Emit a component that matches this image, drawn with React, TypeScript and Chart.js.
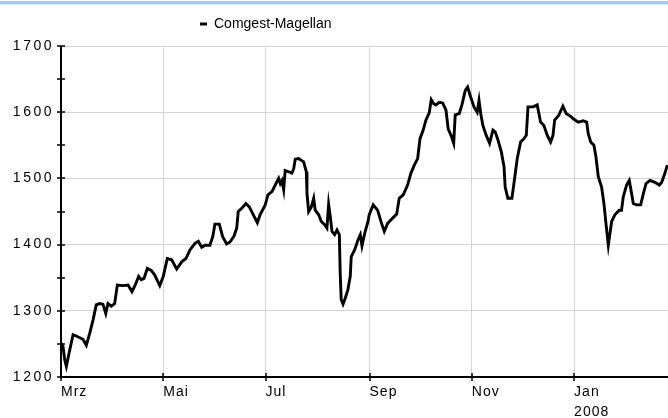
import { useEffect, useRef } from "react";
import { Chart, registerables } from "chart.js";

Chart.register(...registerables);

const seriesName = "Comgest-Magellan";

// days since 1 March 2007
const dayOffsets = [
  0, 1.2, 2.2, 3.2, 4.8, 7.2, 9.1, 13.1, 15.1, 17.1, 19.1, 21.0, 23.1, 25.0, 26.7, 28.0, 30.0, 32.0, 33.6, 37.0,
  40.0, 42.3, 44.3, 46.3, 47.9, 49.5, 51.5, 53.8, 55.9, 57.2, 58.9, 61.0, 63.4, 66.0, 69.0, 72.0, 74.5, 76.9, 79.9,
  81.9, 83.9, 85.9, 88.8, 90.5, 91.8, 94.4, 96.4, 98.8, 100.8, 103.2, 104.8, 105.7, 107.8, 110.3, 112.3, 114.7,
  117.1, 118.7, 121.8, 123.4, 125.8, 127.8, 129.8, 130.8, 131.8, 132.8, 133.7, 135.8, 137.7, 138.8, 139.7, 141.7,
  144.7, 146.3, 146.7, 147.7, 149.3, 150.7, 151.6, 153.7, 155.2, 157.2, 158.6, 159.6, 160.6, 161.6, 163.2, 164.6,
  166.0, 166.5, 167.1, 168.2, 169.5, 171.1, 172.5, 173.1, 175.1, 177.1, 178.5, 179.5, 181.1, 183.1, 183.8, 186.2,
  188.8, 190.8, 192.8, 194.8, 197.8, 200.2, 201.7, 204.1, 206.7, 208.7, 210.7, 212.7, 214.1, 216.0, 217.6, 219.6,
  220.8, 222.2, 223.6, 225.6, 227.6, 229.6, 230.9, 232.6, 234.2, 235.1, 237.5, 239.1, 241.1, 242.5, 244.3, 246.3,
  248.2, 249.3, 250.3, 251.6, 253.6, 255.6, 257.6, 259.0, 260.6, 262.6, 264.2, 264.9, 266.5, 268.9, 270.1, 272.1,
  274.1, 276.1, 277.5, 278.5, 281.5, 284.0, 286.0, 288.0, 290.0, 292.0, 293.4, 294.4, 296.8, 299.3, 301.3, 304.3,
  305.5, 308.5, 311.4, 313.5, 314.4, 315.9, 317.8, 319.0, 320.4, 322.4, 323.8, 325.0, 326.4, 327.4, 328.4, 330.3,
  332.9, 334.3, 335.3, 337.3, 338.9, 340.3, 341.3, 343.3, 345.7, 347.3, 348.9, 351.3, 354.2, 356.8, 358.2, 360.2,
  361.6,
];

const values = [
  1251, 1246, 1226, 1216, 1236, 1264, 1262, 1257, 1248, 1266, 1286, 1309, 1311, 1310, 1296, 1311, 1307, 1311, 1339, 1338,
  1339, 1329, 1339, 1352, 1347, 1349, 1364, 1361, 1354, 1347, 1338, 1352, 1379, 1377, 1363, 1374, 1379, 1392, 1402,
  1405, 1396, 1399, 1399, 1412, 1431, 1431, 1412, 1401, 1404, 1413, 1425, 1450, 1455, 1462, 1457, 1445,
  1433, 1445, 1460, 1475, 1480, 1490, 1500, 1492, 1497, 1483, 1512, 1510, 1508, 1515, 1529, 1530,
  1525, 1510, 1477, 1450, 1457, 1470, 1452, 1445, 1435, 1430, 1425, 1461, 1442, 1420, 1415, 1422,
  1415, 1357, 1317, 1310, 1319, 1332, 1352, 1382, 1392, 1407, 1415, 1398, 1417, 1435, 1445, 1460,
  1452, 1435, 1420, 1432, 1440, 1446, 1470, 1475, 1490, 1508, 1520, 1530, 1560, 1573, 1588, 1599,
  1619, 1613, 1611, 1615, 1614, 1603, 1575, 1565, 1553, 1596, 1598, 1611, 1633, 1638, 1623, 1608,
  1600, 1618, 1598, 1580, 1565, 1553, 1573, 1570, 1558, 1540, 1518, 1487, 1470, 1470, 1492, 1530,
  1555, 1560, 1565, 1608, 1608, 1611, 1585, 1580, 1565, 1555, 1565, 1588, 1595, 1609, 1598, 1593,
  1590, 1585, 1587, 1585, 1568, 1555, 1550, 1533, 1503, 1487, 1462, 1432, 1399, 1417, 1435, 1445,
  1452, 1452, 1472, 1490, 1497, 1477, 1462, 1460, 1460, 1477, 1492, 1497, 1494, 1490, 1494, 1508,
  1520,
];

const tickDays = [0, 61, 122, 184, 245, 306];
const tickLabels: (string | string[])[] = ["Mrz", "Mai", "Jul", "Sep", "Nov", ["Jan", "2008"]];
const xMax = 362;

const yMin = 1200;
const yMax = 1700;
const yStep = 100;
const yMajor = [1200, 1300, 1400, 1500, 1600, 1700];
const yMinor = [1250, 1350, 1450, 1550, 1650];

const FONT = "'Liberation Sans', Arial, sans-serif";

function withSpacing(scale: any, spacing: string) {
  if (scale.__spaced) return;
  const orig = scale.drawLabels;
  scale.drawLabels = function (this: any, area: any) {
    const ctx = this.ctx;
    const prev = ctx.letterSpacing;
    ctx.letterSpacing = spacing;
    orig.call(this, area);
    ctx.letterSpacing = prev || "0px";
  };
  scale.__spaced = true;
}

const decorPlugin = {
  id: "decor",
  beforeLayout(chart: any) {
    const lg = chart.legend;
    if (lg && !lg.__patched) {
      const orig = lg.fit;
      lg.fit = function (this: any) {
        orig.call(this);
        this.height += 5;
      };
      lg.__patched = true;
    }
  },
  afterLayout(chart: any) {
    const lg = chart.legend;
    if (lg) {
      lg.left = 190;
    }
    if (chart.scales.y) withSpacing(chart.scales.y, "2.5px");
    if (chart.scales.x) withSpacing(chart.scales.x, "1px");
  },
  beforeDraw(chart: any) {
    const { ctx, width } = chart;
    ctx.save();
    ctx.fillStyle = "#a3c7ef";
    ctx.fillRect(0, 1, width, 3);
    ctx.fillStyle = "#dbe8f7";
    ctx.fillRect(0, 4, width, 1);
    ctx.restore();
  },
  afterDatasetsDraw(chart: any) {
    const { ctx, chartArea, scales } = chart;
    const { left, right, top, bottom } = chartArea;
    const x = scales.x;
    const y = scales.y;
    ctx.save();
    ctx.strokeStyle = "#000";
    ctx.lineWidth = 2;
    ctx.beginPath();
    ctx.moveTo(left, top);
    ctx.lineTo(left, bottom);
    ctx.lineTo(right, bottom);
    ctx.stroke();
    ctx.lineWidth = 1.5;
    ctx.beginPath();
    [...yMajor, ...yMinor].forEach((v) => {
      const py = Math.round(y.getPixelForValue(v));
      ctx.moveTo(left - 4, py);
      ctx.lineTo(left + 4, py);
    });
    tickDays.forEach((d) => {
      const px = Math.round(x.getPixelForValue(d));
      ctx.moveTo(px, bottom - 4);
      ctx.lineTo(px, bottom + 4);
    });
    ctx.stroke();
    ctx.restore();
  },
};

export default function App() {
  const canvasRef = useRef<HTMLCanvasElement | null>(null);

  useEffect(() => {
    const canvas = canvasRef.current;
    if (!canvas) return;
    const points = dayOffsets.map((d, i) => ({ x: d, y: values[i] }));
    const chart = new Chart(canvas, {
      type: "line",
      data: {
        datasets: [
          {
            label: seriesName,
            data: points,
            borderColor: "#000",
            backgroundColor: "#000",
            borderWidth: 2.9,
            pointRadius: 0,
            tension: 0,
            fill: false,
          },
        ],
      },
      options: {
        responsive: false,
        animation: false,
        devicePixelRatio: 1,
        layout: { padding: { top: 7, left: 0, right: 0, bottom: 0 } },
        plugins: {
          tooltip: { enabled: false },
          legend: {
            display: true,
            position: "top",
            align: "start",
            labels: {
              color: "#000",
              font: { family: FONT, size: 14 },
              boxWidth: 7,
              boxHeight: 3,
              padding: 10,
              generateLabels: () => [
                {
                  text: seriesName,
                  fillStyle: "#000",
                  strokeStyle: "#000",
                  lineWidth: 0,
                  hidden: false,
                  datasetIndex: 0,
                },
              ],
            },
          },
        },
        scales: {
          x: {
            type: "linear",
            min: 0,
            max: xMax,
            afterBuildTicks: (scale: any) => {
              scale.ticks = tickDays.map((v) => ({ value: v }));
            },
            afterFit: (scale: any) => {
              scale.height = 41;
            },
            ticks: {
              autoSkip: false,
              maxRotation: 0,
              align: "start",
              padding: 5,
              color: "#000",
              font: { family: FONT, size: 14, lineHeight: 1.45 },
              callback: (_v: any, i: number) => tickLabels[i],
            },
            grid: { color: "#d4d4d4", lineWidth: 1, drawTicks: false },
            border: { display: false },
          },
          y: {
            type: "linear",
            min: yMin,
            max: yMax,
            ticks: {
              stepSize: yStep,
              padding: 7,
              color: "#000",
              font: { family: FONT, size: 14 },
              callback: (v: any) => String(v),
            },
            afterFit: (scale: any) => {
              scale.width = 61;
            },
            grid: { color: "#d4d4d4", lineWidth: 1, drawTicks: false },
            border: { display: false },
          },
        },
      },
      plugins: [decorPlugin],
    });
    return () => chart.destroy();
  }, []);

  return (
    <div style={{ position: "absolute", left: 0, top: 0, width: 668, height: 418, background: "#fff" }}>
      <canvas ref={canvasRef} width={668} height={418} style={{ display: "block" }} />
    </div>
  );
}
